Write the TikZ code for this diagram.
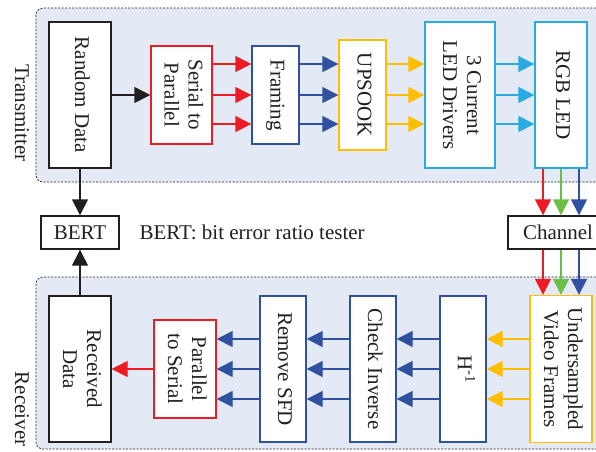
\documentclass[tikz,border=0pt]{standalone}
\usepackage{fontspec}
\setmainfont{Liberation Serif}
\usetikzlibrary{arrows.meta}
\definecolor{cred}{HTML}{ED1C24}
\definecolor{cblue}{HTML}{3050A0}
\definecolor{cyel}{HTML}{FFBE00}
\definecolor{ccyan}{HTML}{29ABE2}
\definecolor{cgreen}{HTML}{6CBE45}
\definecolor{panelbg}{HTML}{E4EAF5}
\definecolor{ink}{HTML}{231F20}
\tikzset{
  panel/.style={draw=ink, fill=panelbg, dash pattern=on 2pt off 1.5pt, line width=0.7pt, rounded corners=7pt},
  blk/.style={draw=#1, fill=white, line width=1.4pt, inner sep=0pt, text=ink},
  arr/.style={draw=#1, line width=1.4pt, -{Triangle[length=16pt,width=16pt,fill=#1]}},
  vt/.style={text=ink}
}
\newcommand{\rt}[1]{\rotatebox[origin=c]{-90}{\begin{tabular}{@{}c@{}}#1\end{tabular}}}
\begin{document}
\begin{tikzpicture}[x=1pt,y=-1pt,font=\fontsize{21}{24}\selectfont]
\useasboundingbox (0,0) rectangle (596,451);
% panels
\node[panel, minimum width=570pt, minimum height=174pt, inner sep=0pt] (tpanel) at (321,95) {};
\node[panel, minimum width=570pt, minimum height=172pt, inner sep=0pt] (rpanel) at (321,363) {};
\node[vt] (tlabel) at (20,113) {\rt{Transmitter}};
\node[vt] (rlabel) at (20,409) {\rt{Receiver}};
% transmitter boxes
\node[blk=ink, minimum width=62pt, minimum height=146pt] (rd) at (80,95) {\rt{Random Data}};
\node[blk=cred, minimum width=61pt, minimum height=98pt] (s2p) at (181.5,95) {\rt{Serial to\\Parallel}};
\node[blk=cblue, minimum width=47pt, minimum height=98pt] (fr) at (275.5,95) {\rt{Framing}};
\node[blk=cyel, minimum width=47pt, minimum height=110pt] (up) at (362.5,95) {\rt{UPSOOK}};
\node[blk=ccyan, minimum width=70pt, minimum height=146pt] (drv) at (460,95) {\rt{3 Current\\LED Drivers}};
\node[blk=ccyan, minimum width=52pt, minimum height=146pt] (rgb) at (561,95) {\rt{RGB LED}};
% middle
\node[blk=ink, minimum width=78pt, minimum height=33pt] (bert) at (80,232.5) {BERT};
\node[vt, anchor=west] (note) at (136,232.5) {BERT: bit error ratio tester};
\node[blk=ink, minimum width=100pt, minimum height=33pt] (chan) at (558,232.5) {Channel};
% receiver boxes
\node[blk=ink, minimum width=62pt, minimum height=146pt] (rx) at (80,369) {\rt{Received\\Data}};
\node[blk=cred, minimum width=62pt, minimum height=98pt] (p2s) at (185,369) {\rt{Parallel\\to Serial}};
\node[blk=cblue, minimum width=46pt, minimum height=146pt] (sfd) at (283,369) {\rt{Remove SFD}};
\node[blk=cblue, minimum width=46pt, minimum height=146pt] (chk) at (373,369) {\rt{Check Inverse}};
\node[blk=cblue, minimum width=46pt, minimum height=146pt] (hinv) at (463,369) {\rt{H\textsuperscript{-1}}};
\node[blk=cyel, minimum width=62pt, minimum height=147pt] (und) at (561,369) {\rt{Undersampled\\Video Frames}};
% transmitter connectors
\draw[arr=ink] (rd.east) -- (s2p.west);
\foreach \d in {31,0,-29}{
  \draw[arr=cred] ([yshift=\d pt]s2p.east) -- ([yshift=\d pt]fr.west);
  \draw[arr=cblue] ([yshift=\d pt]fr.east) -- ([yshift=\d pt]up.west);
  \draw[arr=cyel] ([yshift=\d pt]up.east) -- ([yshift=\d pt]drv.west);
  \draw[arr=ccyan] ([yshift=\d pt]drv.east) -- ([yshift=\d pt]rgb.west);
}
% BERT connectors
\draw[arr=ink] (rd.south) -- (bert.north);
\draw[arr=ink] (rx.north) -- (bert.south);
% RGB to channel to receiver
\coordinate (c1) at ([xshift=-18pt]rgb.south);
\coordinate (c2) at (rgb.south);
\coordinate (c3) at ([xshift=18pt]rgb.south);
\draw[arr=cred] (c1) -- (c1 |- chan.north);
\draw[arr=cgreen] (c2) -- (c2 |- chan.north);
\draw[arr=cblue] (c3) -- (c3 |- chan.north);
\coordinate (d1) at ([xshift=-18pt]und.north);
\coordinate (d2) at (und.north);
\coordinate (d3) at ([xshift=18pt]und.north);
\draw[arr=cred] (d1 |- chan.south) -- (d1);
\draw[arr=cgreen] (d2 |- chan.south) -- (d2);
\draw[arr=cblue] (d3 |- chan.south) -- (d3);
% receiver connectors
\foreach \d in {30,0,-30}{
  \draw[arr=cyel] ([yshift=\d pt]und.west) -- ([yshift=\d pt]hinv.east);
  \draw[arr=cblue] ([yshift=\d pt]hinv.west) -- ([yshift=\d pt]chk.east);
  \draw[arr=cblue] ([yshift=\d pt]chk.west) -- ([yshift=\d pt]sfd.east);
  \draw[arr=cblue] ([yshift=\d pt]sfd.west) -- ([yshift=\d pt]p2s.east);
}
\draw[arr=cred] (p2s.west) -- (rx.east);
\end{tikzpicture}
\end{document}
